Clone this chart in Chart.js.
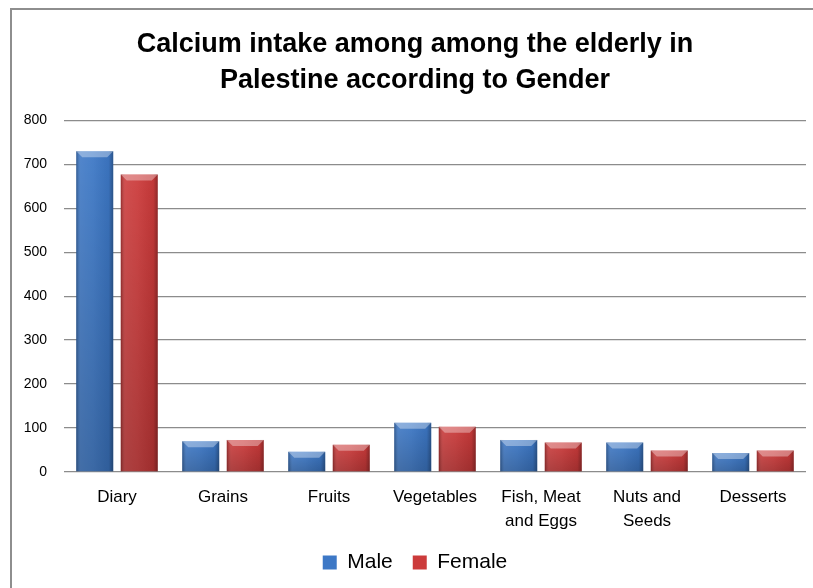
<!DOCTYPE html>
<html>
<head>
<meta charset="utf-8">
<script src="https://cdn.jsdelivr.net/npm/chart.js@4/dist/chart.umd.min.js"></script>
<style>
  html, body { margin: 0; padding: 0; background: #fff; }
  #wrap { position: relative; width: 813px; height: 588px; overflow: hidden; }
  #frame { position: absolute; left: 10px; top: 8px; width: 820px; height: 600px;
           border-left: 2px solid #8e8e8e; border-top: 2px solid #8e8e8e; }
  canvas { position: absolute; left: 0; top: 0; }
</style>
</head>
<body>
<div id="wrap">
  <div id="frame"></div>
  <canvas id="c" width="813" height="588"></canvas>
</div>
<script>
// Calcium intake (mg/day) by food group
const categories = ['Diary', 'Grains', 'Fruits', 'Vegetables', ['Fish, Meat', 'and Eggs'], ['Nuts and', 'Seeds'], 'Desserts'];
const maleValues = [730, 70, 46, 112, 73, 67, 43];
const femaleValues = [677, 73, 62, 103, 67, 49, 49];
const yTicks = [0, 100, 200, 300, 400, 500, 600, 700, 800];

const FONT = "'Liberation Sans', Arial, sans-serif";

// Adds a soft bevel: dark side edges and a light top cap on each bar
const bevel = {
  id: 'bevel',
  afterDatasetsDraw(chart) {
    const ctx = chart.ctx;
    chart.data.datasets.forEach((ds, i) => {
      chart.getDatasetMeta(i).data.forEach(el => {
        const left = el.x - el.width / 2, w = el.width;
        const top = Math.min(el.y, el.base), h = Math.abs(el.base - el.y);
        const g = ctx.createLinearGradient(left, 0, left + w, 0);
        g.addColorStop(0, 'rgba(0,0,0,0.28)');
        g.addColorStop(0.12, 'rgba(255,255,255,0.10)');
        g.addColorStop(0.45, 'rgba(255,255,255,0.06)');
        g.addColorStop(0.88, 'rgba(0,0,0,0.05)');
        g.addColorStop(1, 'rgba(0,0,0,0.30)');
        ctx.save();
        ctx.fillStyle = g;
        ctx.fillRect(left, top, w, h);
        const v = ctx.createLinearGradient(0, top, 0, top + h);
        v.addColorStop(0, 'rgba(0,0,0,0)');
        v.addColorStop(1, 'rgba(0,0,0,0.18)');
        ctx.fillStyle = v;
        ctx.fillRect(left, top, w, h);
        const cap = Math.min(6, h / 3);
        ctx.fillStyle = 'rgba(255,255,255,0.35)';
        ctx.beginPath();
        ctx.moveTo(left, top);
        ctx.lineTo(left + w, top);
        ctx.lineTo(left + w - cap, top + cap);
        ctx.lineTo(left + cap, top + cap);
        ctx.closePath();
        ctx.fill();
        ctx.restore();
      });
    });
  }
};

new Chart(document.getElementById('c'), {
  type: 'bar',
  data: {
    labels: categories,
    datasets: [
      { label: 'Male', data: maleValues, backgroundColor: '#3d78c6', borderWidth: 0 },
      { label: 'Female', data: femaleValues, backgroundColor: '#cc3b3b', borderWidth: 0 }
    ]
  },
  options: {
    responsive: false,
    animation: false,
    categoryPercentage: 0.84,
    barPercentage: 0.83,
    layout: { padding: { left: 24, right: 7, top: 0, bottom: 5 } },
    plugins: {
      title: {
        display: true,
        text: ['Calcium intake among among the elderly in', 'Palestine according to Gender'],
        color: '#000',
        font: { family: FONT, size: 27, weight: 'bold', lineHeight: 1.34 },
        padding: { top: 26, bottom: 22 }
      },
      legend: {
        position: 'bottom',
        labels: {
          color: '#000',
          font: { family: FONT, size: 21 },
          boxWidth: 14,
          boxHeight: 14,
          padding: 20
        }
      },
      tooltip: { enabled: false }
    },
    scales: {
      x: {
        grid: { display: false, drawTicks: false },
        border: { display: false },
        afterFit(axis) { axis.height = 60; },
        ticks: { color: '#000', font: { family: FONT, size: 17, lineHeight: 1.41 }, padding: 13, maxRotation: 0 }
      },
      y: {
        min: yTicks[0],
        max: yTicks[yTicks.length - 1],
        afterBuildTicks(axis) { axis.ticks = yTicks.map(v => ({ value: v })); },
        afterFit(axis) { axis.width = 40; },
        grid: { color: '#8c8c8c', lineWidth: 1.3, drawTicks: false },
        border: { display: false },
        ticks: { color: '#000', font: { family: FONT, size: 14 }, padding: 17 }
      }
    }
  },
  plugins: [bevel]
});
</script>
</body>
</html>
